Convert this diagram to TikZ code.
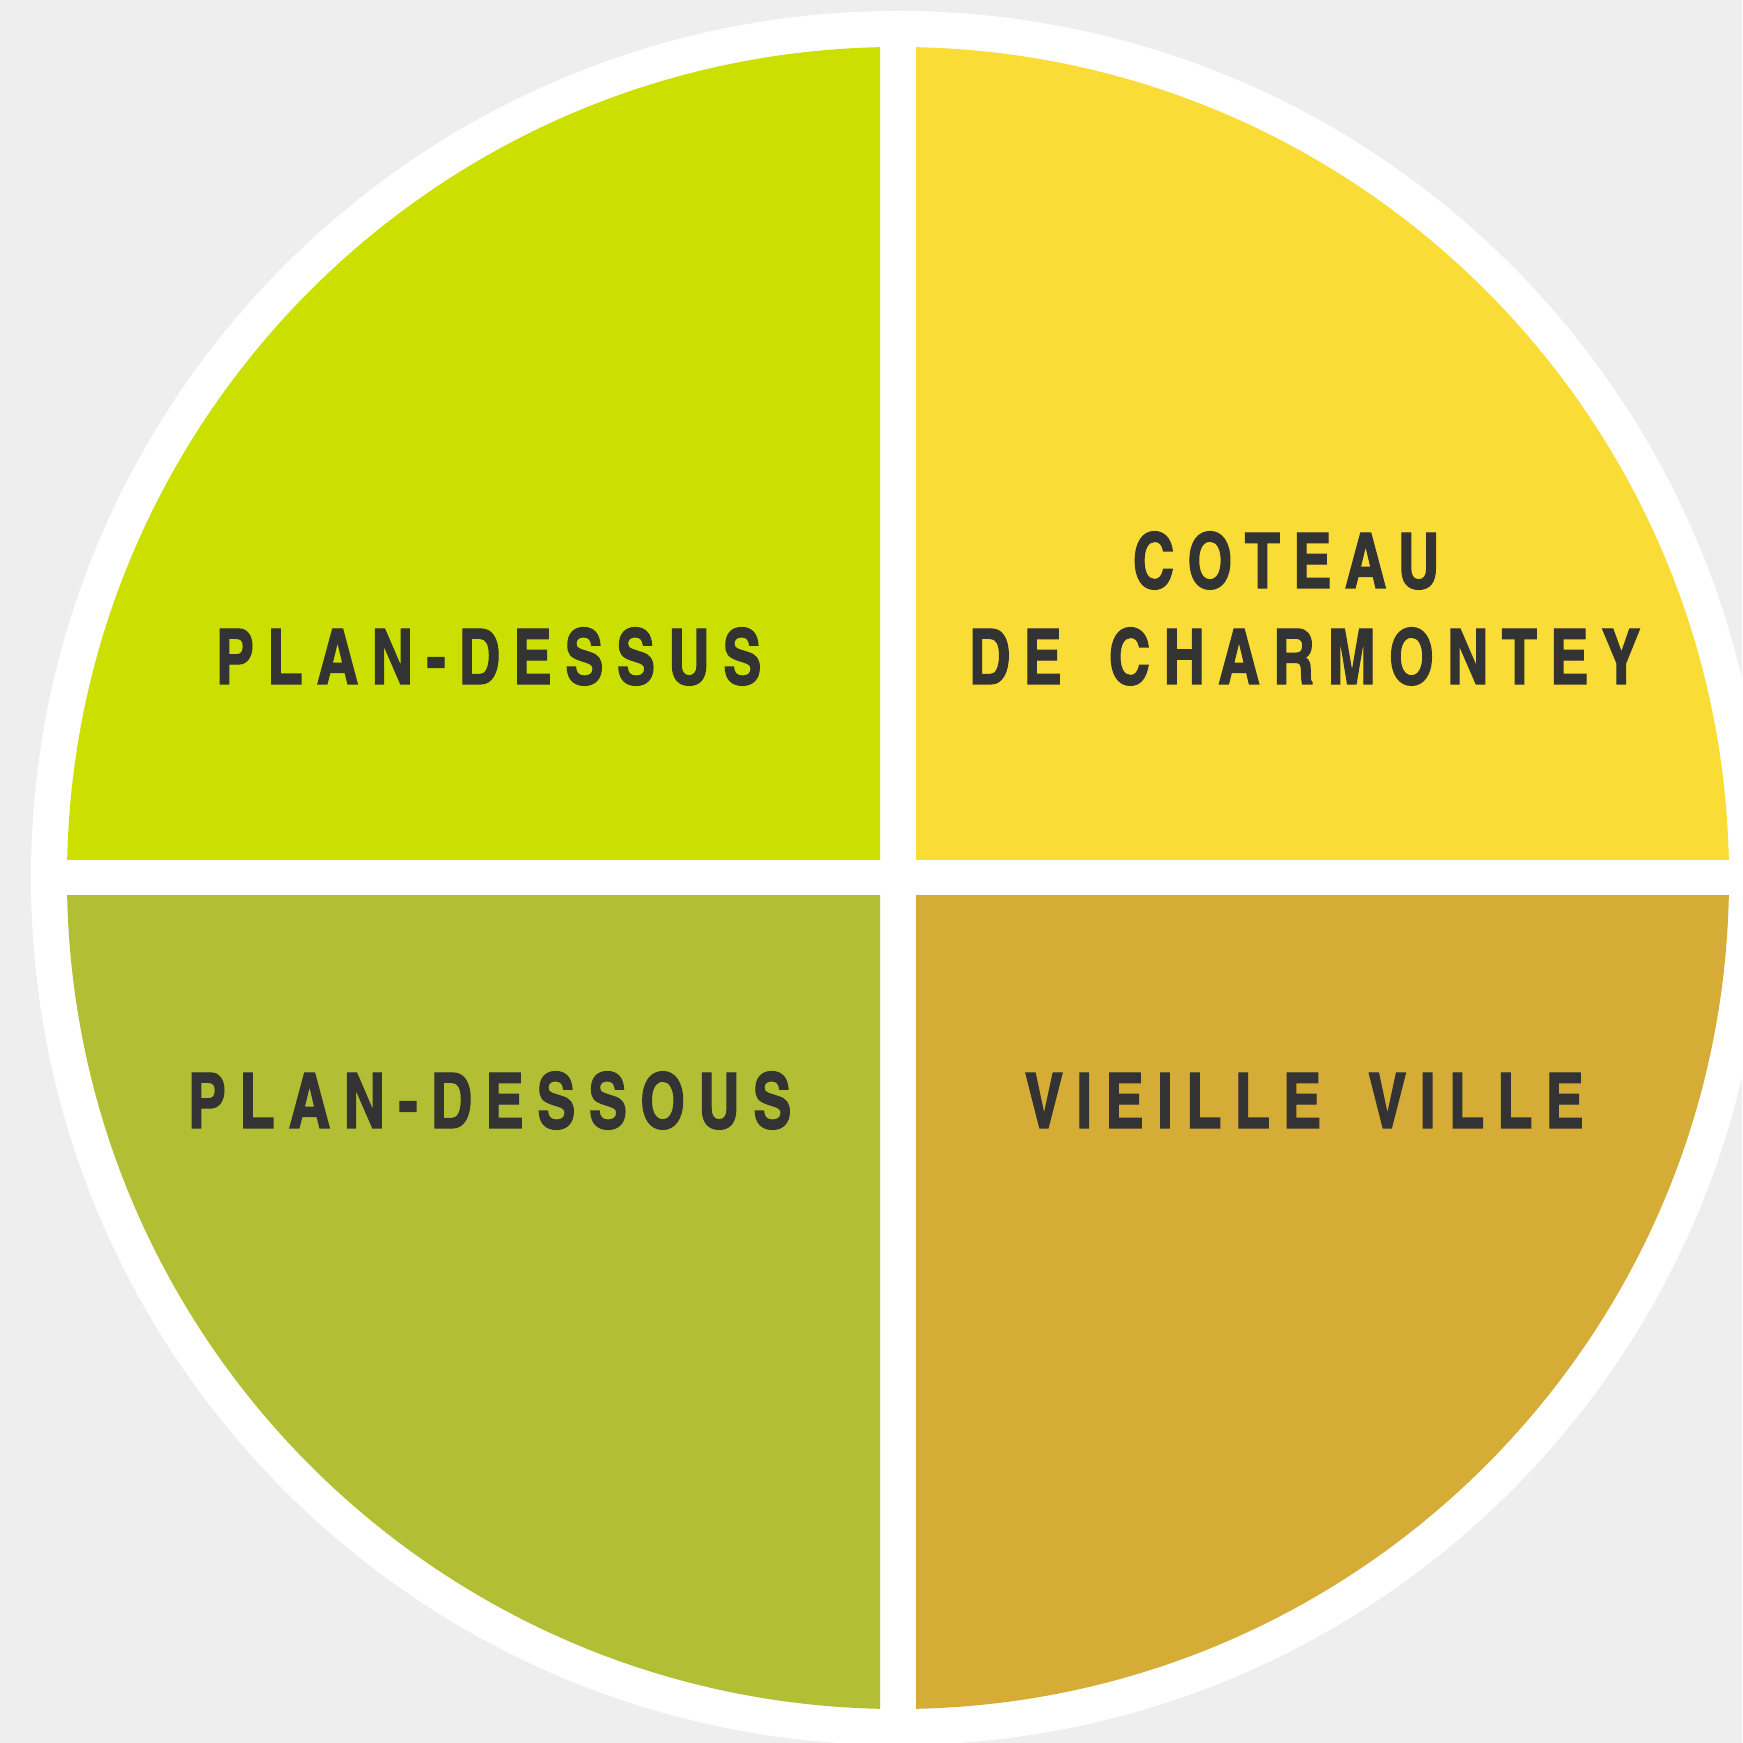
\documentclass[tikz,border=0pt]{standalone}
\usepackage{fontspec}
\newfontfamily\quartierfont[LetterSpace=17,FakeStretch=0.92,FakeBold=1.5,WordSpace=1.6]{texgyreheroscn-bold.otf}
\definecolor{fond}{HTML}{EEEEEE}
\definecolor{vertclair}{HTML}{CCE000}
\definecolor{jaune}{HTML}{F9DC35}
\definecolor{vertolive}{HTML}{B2BF35}
\definecolor{ocre}{HTML}{D5AC35}
\definecolor{gristexte}{HTML}{333333}

\begin{document}
\begin{tikzpicture}[x=0.01cm,y=0.01cm,
    quartier/.style={font={\quartierfont\fontsize{21.8}{26}\selectfont},
      text=gristexte, inner sep=0pt, anchor=base west}]
\pgfmathsetmacro{\rext}{867} % rayon du disque blanc
\pgfmathsetmacro{\rint}{831} % rayon des quartiers
\pgfmathsetmacro{\gap}{18} % demi-largeur des bandes blanches

\useasboundingbox (-898,-865) rectangle (844,878);
\fill[fond] (-898,-865) rectangle (844,878); % fond gris
\fill[white] (0,0) circle (\rext); % disque blanc
% quartiers
\begin{scope}
  \clip (-\rint,\gap) rectangle (-\gap,\rint);
  \fill[vertclair] (0,0) circle (\rint); % haut gauche
\end{scope}
\begin{scope}
  \clip (\gap,\gap) rectangle (\rint,\rint);
  \fill[jaune] (0,0) circle (\rint); % haut droite
\end{scope}
\begin{scope}
  \clip (-\rint,-\rint) rectangle (-\gap,-\gap);
  \fill[vertolive] (0,0) circle (\rint); % bas gauche
\end{scope}
\begin{scope}
  \clip (\gap,-\rint) rectangle (\rint,-\gap);
  \fill[ocre] (0,0) circle (\rint); % bas droite
\end{scope}
% noms des quartiers
\node[quartier] (plandessus) at (-683,194) {PLAN-DESSUS};
\node[quartier] (coteau) at (234,290) {COTEAU};
\node[quartier] (charmontey) at (70,194) {DE CHARMONTEY};
\node[quartier] (plandessous) at (-711,-250) {PLAN-DESSOUS};
\node[quartier] (vieilleville) at (126,-250) {VIEILLE VILLE};
\end{tikzpicture}
\end{document}
